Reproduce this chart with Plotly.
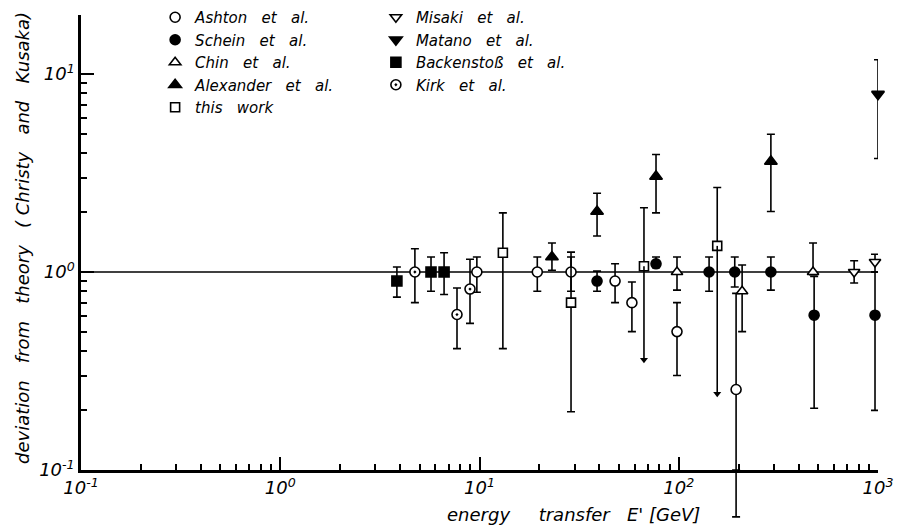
import plotly.graph_objects as go

# ---------------- data ----------------
# Ashton et al. (open circles)
ashton_x = [9.7, 19.5, 28.8, 47.9, 58.2, 98, 194]
ashton_y = [1.0, 1.0, 1.0, 0.90, 0.70, 0.50, 0.255]
ashton_hi = [1.19, 1.19, 1.19, 1.10, 0.89, 0.70, 0.78]
ashton_lo = [0.79, 0.80, 0.80, 0.70, 0.50, 0.30, 0.058]

# Schein et al. (filled circles)
schein_x = [38.9, 76.9, 142, 191, 290, 478, 966]
schein_y = [0.90, 1.10, 1.0, 1.0, 1.0, 0.605, 0.605]
schein_hi = [1.01, 1.19, 1.19, 1.19, 1.19, 0.95, 1.0]
schein_lo = [0.80, 1.05, 0.80, 0.84, 0.81, 0.205, 0.20]

# Chin et al. (open triangles)
chin_x = [98, 208, 472]
chin_y = [1.0, 0.80, 1.0]
chin_hi = [1.19, 1.085, 1.40]
chin_lo = [0.81, 0.50, 0.97]

# Alexander et al. (filled triangles)
alex_x = [23.1, 38.9, 76.9, 290]
alex_y = [1.19, 2.02, 3.04, 3.62]
alex_hi = [1.40, 2.50, 3.92, 4.96]
alex_lo = [1.02, 1.52, 1.99, 2.02]

# this work (open squares); last two are upper limits (arrows)
tw_x = [13.1, 28.8, 66.9, 156]
tw_y = [1.25, 0.70, 1.07, 1.355]
tw_hi = [1.99, 1.26, 2.11, 2.67]
tw_lo = [0.41, 0.197, 0.36, 0.243]
tw_limit = [False, False, True, True]

# Misaki et al. (open inverted triangles)
misaki_x = [759, 966]
misaki_y = [1.0, 1.124]
misaki_hi = [1.14, 1.23]
misaki_lo = [0.88, 1.0]

# Matano et al. (filled inverted triangle)
matano_x = [1000]
matano_y = [7.91]
matano_hi = [11.8]
matano_lo = [3.74]

# Backenstoss et al. (filled squares)
back_x = [3.85, 5.71, 6.64]
back_y = [0.90, 1.0, 1.0]
back_hi = [1.06, 1.19, 1.25]
back_lo = [0.747, 0.80, 0.77]

# Kirk et al.
kirk_x = [4.74, 7.71, 8.96]
kirk_y = [1.0, 0.61, 0.82]
kirk_hi = [1.31, 0.83, 1.16]
kirk_lo = [0.70, 0.41, 0.55]

# theory reference level
theory_level = 1.0

x_tick_vals = [0.1, 1, 10, 100, 1000]
x_tick_text = ["10<sup>-1</sup>", "10<sup>0</sup>", "10<sup>1</sup>", "10<sup>2</sup>", "10<sup>3</sup>"]
y_tick_vals = [0.1, 1, 10]
y_tick_text = ["10<sup>-1</sup>", "10<sup>0</sup>", "10<sup>1</sup>"]

FONT = "DejaVu Sans"
BLACK = "black"

# ---------------- geometry ----------------
W, H = 903, 529
M_L, M_R, M_T, M_B = 81, 25, 15, 10
AXIS_PX = 470                      # pixel row of the x axis
Y_RANGE = [-1, 1.298]              # log10 range of the framed plot
Y_MIN = 10 ** Y_RANGE[0]
area_h = H - M_T - M_B
y_dom0 = (H - M_B - AXIS_PX) / area_h
dec_px = (AXIS_PX - M_T) / (Y_RANGE[1] - Y_RANGE[0])
y2_range = [Y_RANGE[0] - (H - M_B - AXIS_PX) / dec_px, Y_RANGE[1]]


def py(px_row):
    """paper y coordinate of a pixel row"""
    return (H - M_B - px_row) / area_h


fig = go.Figure()


def add_series(name, x, y, hi, lo, symbol, fill, legend, size=9, show_lo=None):
    plus = [h - v for h, v in zip(hi, y)]
    minus = [v - l for v, l in zip(y, lo)]
    if show_lo is not None:
        minus = [m if s else 0 for m, s in zip(minus, show_lo)]
    # parts of error bars that run below the frame (drawn on an unframed helper axis)
    ext = [(xi, li) for xi, li in zip(x, lo) if li < Y_MIN]
    if ext:
        fig.add_trace(go.Scatter(
            x=[e[0] for e in ext], y=[Y_MIN] * len(ext), yaxis="y2", mode="markers",
            showlegend=False, hoverinfo="skip",
            marker=dict(size=1, color="rgba(0,0,0,0)"),
            error_y=dict(type="data", symmetric=False, array=[0] * len(ext),
                         arrayminus=[Y_MIN - e[1] for e in ext],
                         color=BLACK, thickness=1.6, width=4),
        ))
    fig.add_trace(go.Scatter(
        x=x, y=y, mode="markers", name=name, legend=legend,
        cliponaxis=False,
        marker=dict(symbol=symbol, size=size, color=fill,
                    line=dict(color=BLACK, width=1.6)),
        error_y=dict(type="data", symmetric=False, array=plus, arrayminus=minus,
                     color=BLACK, thickness=1.6, width=4),
    ))


# column 1 of legend
add_series("Ashton   et   al.", ashton_x, ashton_y, ashton_hi, ashton_lo, "circle", "white", "legend", size=10)
add_series("Schein   et   al.", schein_x, schein_y, schein_hi, schein_lo, "circle", BLACK, "legend", size=10)
add_series("Chin   et   al.", chin_x, chin_y, chin_hi, chin_lo, "triangle-up", "white", "legend", size=10)
add_series("Alexander   et   al.", alex_x, alex_y, alex_hi, alex_lo, "triangle-up", BLACK, "legend", size=11)
add_series("this   work", tw_x, tw_y, tw_hi, tw_lo, "square", "white", "legend",
           show_lo=[not f for f in tw_limit])
# column 2 of legend
add_series("Misaki   et   al.", misaki_x, misaki_y, misaki_hi, misaki_lo, "triangle-down", "white", "legend2", size=10)
add_series("Matano   et   al.", matano_x, matano_y, matano_hi, matano_lo, "triangle-down", BLACK, "legend2", size=11)
add_series("Backenstoß   et   al.", back_x, back_y, back_hi, back_lo, "square", BLACK, "legend2", size=10)
add_series("Kirk   et   al.", kirk_x, kirk_y, kirk_hi, kirk_lo, "circle-dot", "white", "legend2", size=10)

# upper-limit arrows for "this work"
arr_x = [x for x, f in zip(tw_x, tw_limit) if f]
arr_y = [l for l, f in zip(tw_lo, tw_limit) if f]
arr_len = [v - l for v, l, f in zip(tw_y, tw_lo, tw_limit) if f]
fig.add_trace(go.Scatter(
    x=arr_x, y=arr_y, mode="markers", showlegend=False, cliponaxis=False,
    marker=dict(symbol="triangle-down", size=7, color=BLACK, line=dict(width=0)),
    error_y=dict(type="data", symmetric=False, array=arr_len, arrayminus=[0] * len(arr_x),
                 color=BLACK, thickness=1.6, width=0),
))

fig.add_shape(type="line", xref="paper", x0=0, x1=1, yref="y", y0=theory_level, y1=theory_level,
              line=dict(color=BLACK, width=1.6), layer="below")

minor_vals = [m * 10 ** e for e in range(-1, 3) for m in range(2, 10)]

axis_common = dict(
    type="log", showline=True, linecolor=BLACK, linewidth=2.5, mirror=False,
    ticks="inside", ticklen=13, tickwidth=2, tickcolor=BLACK,
    showgrid=False, zeroline=False,
    tickfont=dict(family=FONT, size=18, color=BLACK, style="italic"),
    tickmode="array",
    minor=dict(ticks="inside", ticklen=6, tickwidth=1.5, tickcolor=BLACK,
               tickmode="array", tickvals=minor_vals, showgrid=False),
)

leg_font = dict(family=FONT, size=15, style="italic", color=BLACK)
leg_top = py(M_T - 14)

fig.update_layout(
    width=W, height=H,
    margin=dict(l=M_L, r=M_R, t=M_T, b=M_B, autoexpand=False),
    paper_bgcolor="white", plot_bgcolor="rgba(0,0,0,0)",
    font=dict(family=FONT, size=16, color=BLACK, style="italic"),
    xaxis=dict(axis_common, range=[-1, 3], tickvals=x_tick_vals, ticktext=x_tick_text, anchor="y"),
    yaxis=dict(axis_common, range=Y_RANGE, tickvals=y_tick_vals, ticktext=y_tick_text,
               domain=[y_dom0, 1], anchor="x"),
    yaxis2=dict(type="log", range=y2_range, domain=[0, 1], anchor="x", visible=False,
                showgrid=False, zeroline=False),
    legend=dict(x=0.093, xanchor="left", y=leg_top, yanchor="top", bgcolor="rgba(0,0,0,0)",
                font=leg_font, tracegroupgap=0),
    legend2=dict(x=0.37, xanchor="left", y=leg_top, yanchor="top", bgcolor="rgba(0,0,0,0)",
                 font=leg_font, tracegroupgap=0),
    showlegend=True,
)

fig.add_annotation(
    text="deviation   from   theory   ( Christy   and   Kusaka)", textangle=-90,
    xref="paper", yref="paper", x=-0.074, y=py(238), xanchor="center", yanchor="middle",
    showarrow=False, font=dict(family=FONT, size=18, style="italic"),
)
fig.add_annotation(
    text="energy     transfer   E' [GeV]",
    xref="paper", yref="paper", x=0.618, y=py(514), xanchor="center", yanchor="middle",
    showarrow=False, font=dict(family=FONT, size=18, style="italic"),
)

fig.write_html("out.html", config={"displayModeBar": False},
               post_script="document.body.style.margin='0px';")
